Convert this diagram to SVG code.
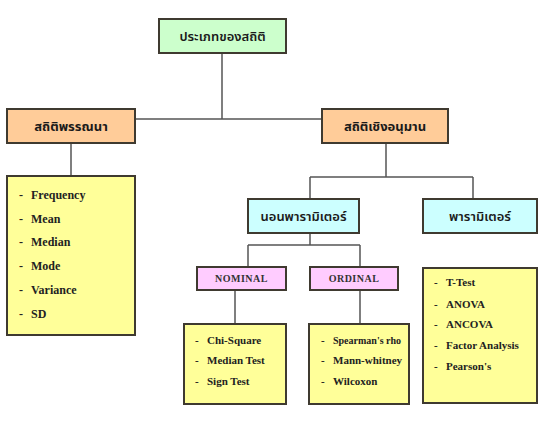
<svg xmlns="http://www.w3.org/2000/svg" width="557" height="421" viewBox="0 0 557 421">
<style>
.box{stroke:#3f3a30;stroke-width:2}
.g{fill:#ccffcc}.o{fill:#ffcc99}.c{fill:#ccffff}.p{fill:#ffccff}.y{fill:#ffff99}
.th{font-family:"Noto Sans Thai","Noto Sans","DejaVu Sans",sans-serif;font-size:13px;fill:#1a1a1a;text-anchor:middle;font-weight:600}
.thb{font-weight:bold}
.it{font-family:"Liberation Serif",serif;font-weight:bold;font-size:11px;fill:#222}
.big{font-size:12px}
.sm{font-size:10px}
.cap{font-family:"Liberation Serif",serif;font-weight:bold;font-size:10px;fill:#333;text-anchor:middle;letter-spacing:0.5px}
.ln{stroke:#555;stroke-width:1.5;fill:none}
</style>
<rect width="557" height="421" fill="#ffffff"/>
<g id="connectors">
<path class="ln" d="M222 53V119M135 119H322"/>
<path class="ln" d="M71 143V176"/>
<path class="ln" d="M386 143V177M310 177H473M310 177V199M473 177V199"/>
<path class="ln" d="M310 233V245M248 245H360M248 245V267M360 245V267"/>
<path class="ln" d="M235 290V324M360 290V324"/>
</g>
<g id="root">
<rect class="box g" x="159" y="19" width="127" height="34"/>
<text class="th" x="222.5" y="41">ประเภทของสถิติ</text>
</g>
<g id="descriptive">
<rect class="box o" x="7" y="109" width="128" height="34"/>
<text class="th thb" x="71" y="131">สถิติพรรณนา</text>
</g>
<g id="inferential">
<rect class="box o" x="322" y="109" width="126" height="34"/>
<text class="th thb" x="385" y="131">สถิติเชิงอนุมาน</text>
</g>
<g id="descriptive-list">
<rect class="box y" x="7" y="176" width="128" height="159"/>
<g class="it big">
<text x="19" y="199">-</text><text x="31" y="199">Frequency</text>
<text x="19" y="223">-</text><text x="31" y="223">Mean</text>
<text x="19" y="246">-</text><text x="31" y="246">Median</text>
<text x="19" y="270">-</text><text x="31" y="270">Mode</text>
<text x="19" y="294">-</text><text x="31" y="294">Variance</text>
<text x="19" y="318">-</text><text x="31" y="318">SD</text>
</g>
</g>
<g id="nonparametric">
<rect class="box c" x="248" y="199" width="111" height="34"/>
<text class="th" x="303.5" y="221">นอนพารามิเตอร์</text>
</g>
<g id="parametric">
<rect class="box c" x="423" y="199" width="114" height="34"/>
<text class="th" x="480" y="221">พารามิเตอร์</text>
</g>
<g id="nominal">
<rect class="box p" x="197" y="267" width="89" height="23"/>
<text class="cap" x="241.5" y="282">NOMINAL</text>
</g>
<g id="ordinal">
<rect class="box p" x="310" y="267" width="88" height="23"/>
<text class="cap" x="354" y="282">ORDINAL</text>
</g>
<g id="nominal-list">
<rect class="box y" x="184" y="324" width="102" height="80"/>
<g class="it">
<text x="195" y="344">-</text><text x="207" y="344">Chi-Square</text>
<text x="195" y="364">-</text><text x="207" y="364">Median Test</text>
<text x="195" y="385">-</text><text x="207" y="385">Sign Test</text>
</g>
</g>
<g id="ordinal-list">
<rect class="box y" x="309" y="324" width="100" height="80"/>
<g class="it">
<text x="321" y="344">-</text><text class="sm" x="333" y="344">Spearman's rho</text>
<text x="321" y="364">-</text><text x="333" y="364">Mann-whitney</text>
<text x="321" y="385">-</text><text x="333" y="385">Wilcoxon</text>
</g>
</g>
<g id="parametric-list">
<rect class="box y" x="423" y="268" width="114" height="135"/>
<g class="it">
<text x="434" y="286">-</text><text x="446" y="286">T-Test</text>
<text x="434" y="308">-</text><text x="446" y="308">ANOVA</text>
<text x="434" y="328">-</text><text x="446" y="328">ANCOVA</text>
<text x="434" y="349">-</text><text x="446" y="349">Factor Analysis</text>
<text x="434" y="370">-</text><text x="446" y="370">Pearson's</text>
</g>
</g>
</svg>
